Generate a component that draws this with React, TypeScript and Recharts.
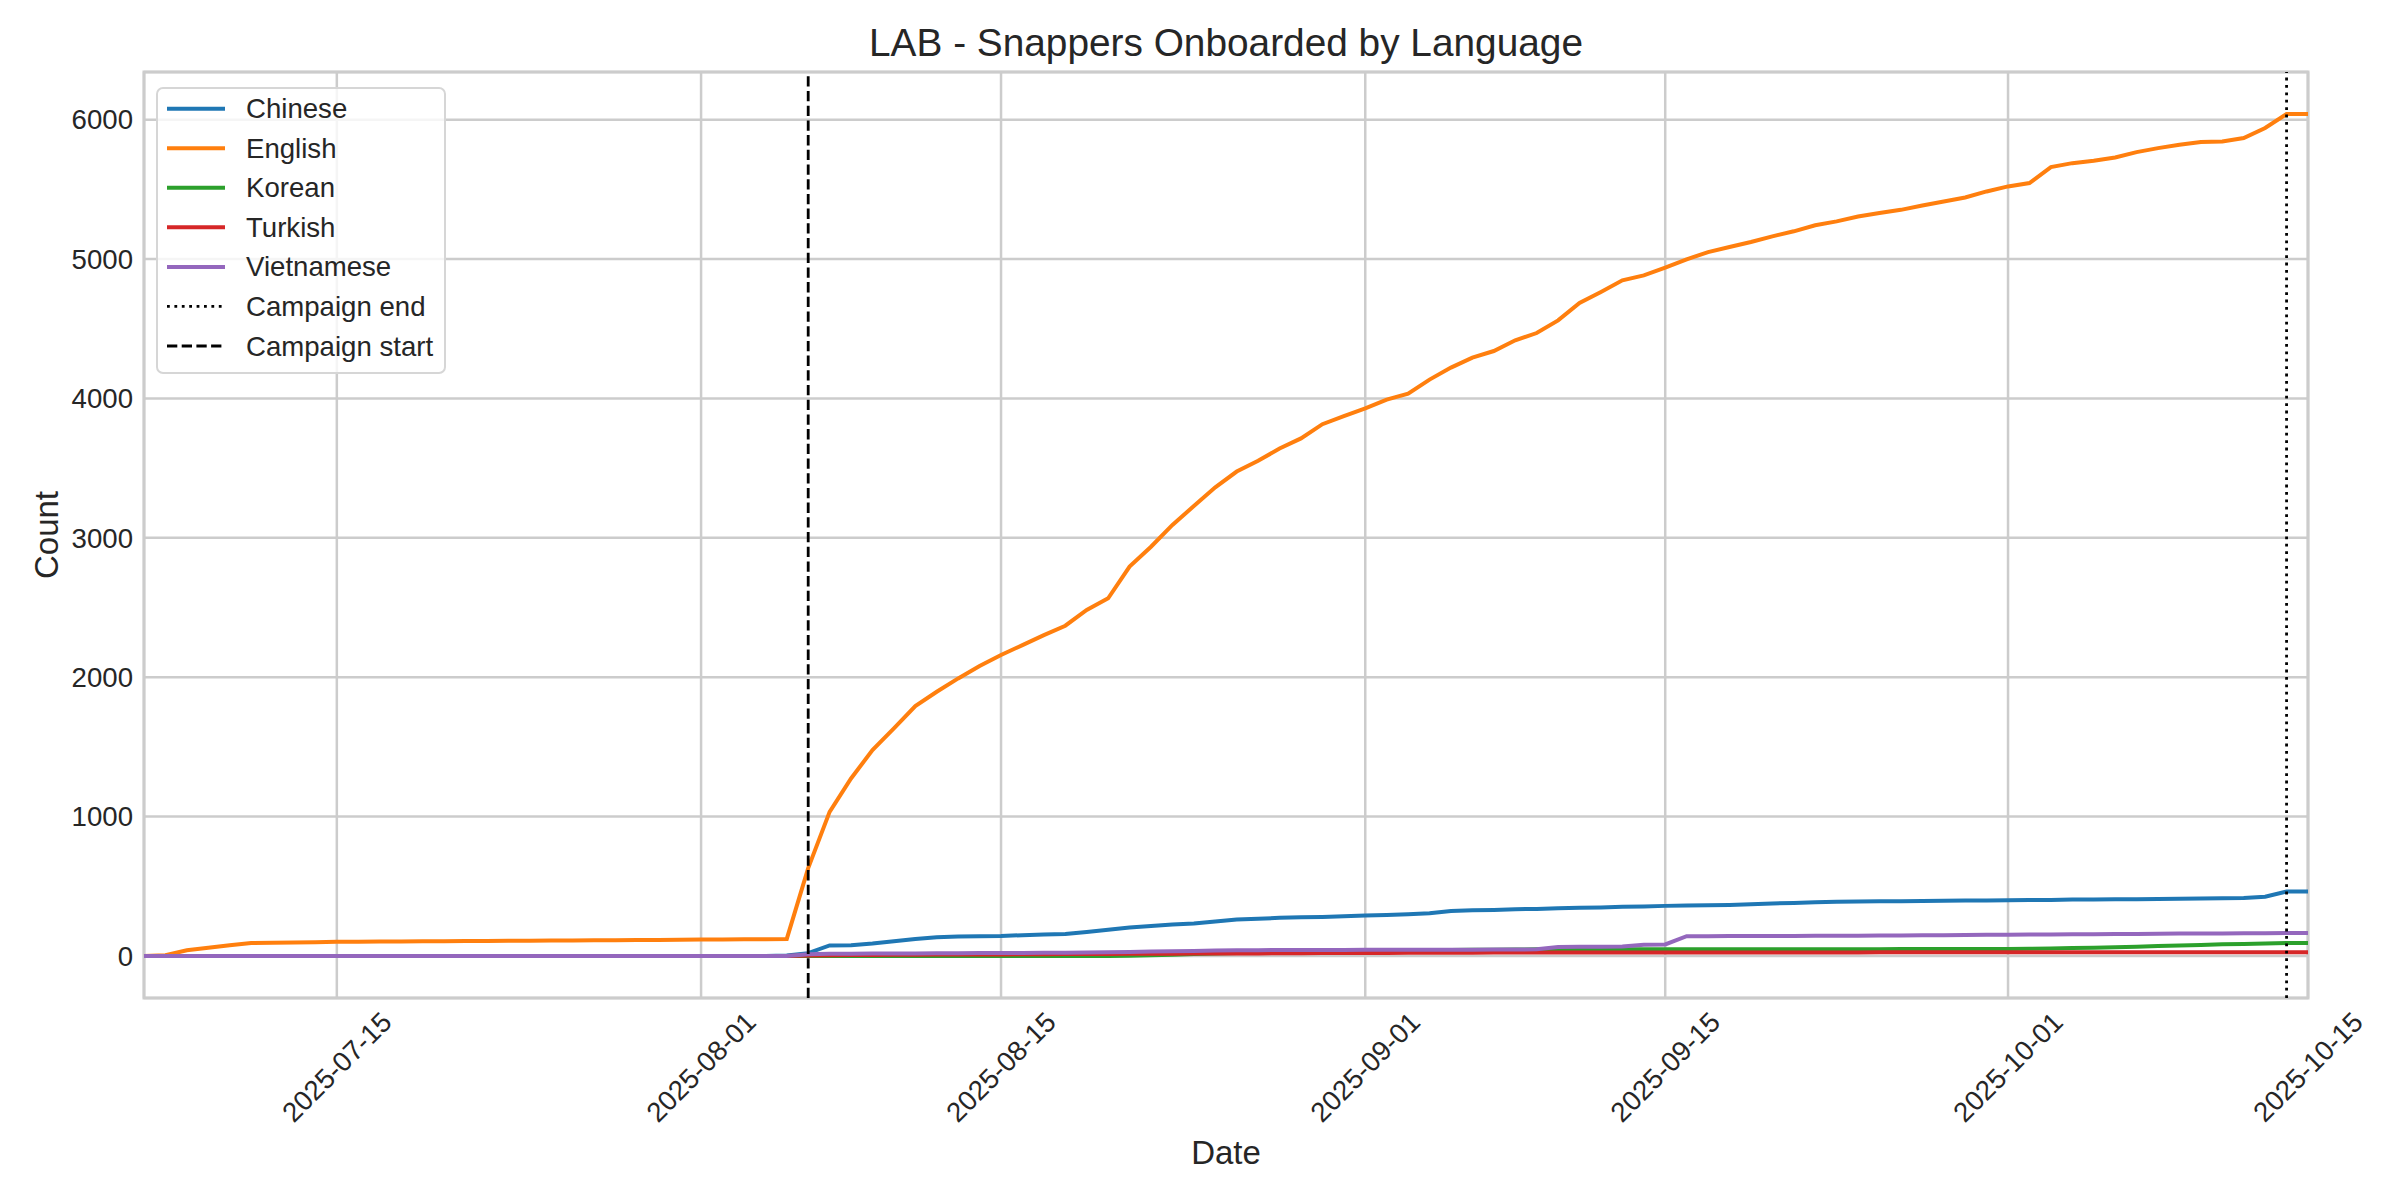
import React from "react";
import { LineChart, Line, XAxis, YAxis, CartesianGrid, ReferenceLine, ReferenceArea } from "recharts";

const FONT = "'Liberation Sans', Arial, sans-serif";
const TEXT = "#262626";

// daily dates, 2025-07-06 .. 2025-10-15
const dates = [
  "2025-07-06", "2025-07-07", "2025-07-08", "2025-07-09", "2025-07-10", "2025-07-11", "2025-07-12", "2025-07-13",
  "2025-07-14", "2025-07-15", "2025-07-16", "2025-07-17", "2025-07-18", "2025-07-19", "2025-07-20", "2025-07-21",
  "2025-07-22", "2025-07-23", "2025-07-24", "2025-07-25", "2025-07-26", "2025-07-27", "2025-07-28", "2025-07-29",
  "2025-07-30", "2025-07-31",
  "2025-08-01", "2025-08-02", "2025-08-03", "2025-08-04", "2025-08-05", "2025-08-06", "2025-08-07", "2025-08-08",
  "2025-08-09", "2025-08-10", "2025-08-11", "2025-08-12", "2025-08-13", "2025-08-14", "2025-08-15", "2025-08-16",
  "2025-08-17", "2025-08-18", "2025-08-19", "2025-08-20", "2025-08-21", "2025-08-22", "2025-08-23", "2025-08-24",
  "2025-08-25", "2025-08-26", "2025-08-27", "2025-08-28", "2025-08-29", "2025-08-30", "2025-08-31",
  "2025-09-01", "2025-09-02", "2025-09-03", "2025-09-04", "2025-09-05", "2025-09-06", "2025-09-07", "2025-09-08",
  "2025-09-09", "2025-09-10", "2025-09-11", "2025-09-12", "2025-09-13", "2025-09-14", "2025-09-15", "2025-09-16",
  "2025-09-17", "2025-09-18", "2025-09-19", "2025-09-20", "2025-09-21", "2025-09-22", "2025-09-23", "2025-09-24",
  "2025-09-25", "2025-09-26", "2025-09-27", "2025-09-28", "2025-09-29", "2025-09-30",
  "2025-10-01", "2025-10-02", "2025-10-03", "2025-10-04", "2025-10-05", "2025-10-06", "2025-10-07", "2025-10-08",
  "2025-10-09", "2025-10-10", "2025-10-11", "2025-10-12", "2025-10-13", "2025-10-14", "2025-10-15",
];

const chinese = [
  0, 0, 0, 0, 0, 0, 0, 0, 0, 0,
  0, 0, 0, 0, 0, 0, 0, 0, 0, 0,
  0, 0, 0, 0, 0, 0, 0, 0, 0, 0,
  3, 20, 75, 77, 89, 105, 122, 134, 139, 141,
  142, 149, 153, 158, 172, 187, 204, 215, 225, 232,
  247, 261, 266, 273, 277, 280, 285, 290, 294, 299,
  306, 323, 328, 330, 335, 337, 342, 345, 347, 352,
  354, 359, 362, 364, 366, 371, 376, 380, 385, 388,
  391, 392, 393, 394, 395, 397, 398, 400, 401, 402,
  404, 405, 406, 407, 409, 410, 412, 414, 415, 424,
  462, 462,
];

const english = [
  0, 5, 41, 58, 77, 92, 94, 96, 98, 101,
  102, 103, 104, 105, 106, 107, 107, 108, 109, 110,
  111, 112, 113, 114, 115, 116, 117, 118, 119, 120,
  122, 630, 1034, 1273, 1477, 1632, 1793, 1895, 1991, 2080,
  2159, 2230, 2302, 2369, 2482, 2566, 2793, 2936, 3092, 3228,
  3362, 3475, 3552, 3641, 3713, 3815, 3873, 3928, 3991, 4034,
  4135, 4221, 4293, 4340, 4417, 4469, 4560, 4685, 4764, 4847,
  4883, 4938, 4998, 5050, 5086, 5122, 5163, 5199, 5242, 5270,
  5305, 5330, 5353, 5384, 5413, 5442, 5485, 5521, 5545, 5660,
  5688, 5705, 5729, 5767, 5796, 5820, 5839, 5844, 5868, 5940,
  6040, 6040,
];

const korean = [
  0, 0, 0, 0, 0, 0, 0, 0, 0, 0,
  0, 0, 0, 0, 0, 0, 0, 0, 0, 0,
  0, 0, 0, 0, 0, 0, 0, 0, 0, 0,
  0, 0, 0, 0, 0, 0, 0, 0, 0, 0,
  0, 0, 0, 0, 0, 0, 2, 5, 9, 13,
  17, 20, 22, 25, 28, 30, 32, 34, 36, 38,
  40, 42, 44, 45, 46, 47, 48, 48, 48, 48,
  48, 48, 48, 48, 48, 48, 48, 48, 48, 48,
  48, 48, 49, 49, 49, 49, 49, 50, 51, 53,
  56, 59, 62, 66, 71, 75, 79, 83, 86, 89,
  92, 93,
];

const turkish = [
  0, 0, 0, 0, 0, 0, 0, 0, 0, 0,
  0, 0, 0, 0, 0, 0, 0, 0, 0, 0,
  0, 0, 0, 0, 0, 0, 0, 0, 0, 0,
  0, 3, 5, 6, 7, 8, 9, 10, 10, 11,
  11, 12, 12, 13, 13, 14, 15, 16, 16, 17,
  17, 18, 18, 19, 19, 20, 20, 21, 21, 22,
  22, 23, 23, 24, 24, 24, 25, 25, 25, 25,
  25, 25, 25, 25, 25, 25, 25, 25, 25, 25,
  25, 26, 26, 26, 26, 26, 26, 26, 26, 26,
  26, 26, 26, 26, 26, 27, 27, 27, 27, 27,
  27, 27,
];

const vietnamese = [
  0, 0, 0, 0, 0, 0, 0, 0, 0, 0,
  0, 0, 0, 0, 0, 0, 0, 0, 0, 0,
  0, 0, 0, 0, 0, 0, 0, 0, 0, 0,
  0, 12, 15, 16, 17, 18, 18, 19, 19, 20,
  20, 21, 22, 23, 24, 26, 28, 31, 34, 36,
  38, 40, 41, 42, 43, 43, 43, 44, 44, 44,
  45, 45, 45, 46, 46, 47, 64, 65, 66, 67,
  80, 82, 141, 141, 142, 142, 143, 143, 144, 144,
  145, 146, 147, 148, 149, 150, 151, 152, 153, 154,
  155, 156, 157, 158, 159, 160, 160, 161, 162, 163,
  164, 165,
];

const xTicks = ["2025-07-15", "2025-08-01", "2025-08-15", "2025-09-01", "2025-09-15", "2025-10-01", "2025-10-15"];
const yTicks = [0, 1000, 2000, 3000, 4000, 5000, 6000];
const campaignStart = "2025-08-06";
const campaignEnd = "2025-10-14";

const series = [
  { name: "Chinese", color: "#1f77b4", values: chinese },
  { name: "English", color: "#ff7f0e", values: english },
  { name: "Korean", color: "#2ca02c", values: korean },
  { name: "Turkish", color: "#d62728", values: turkish },
  { name: "Vietnamese", color: "#9467bd", values: vietnamese },
];

const data = dates.map((date, i) => {
  const row: Record<string, string | number> = { date };
  series.forEach((s) => (row[s.name] = s.values[i]));
  return row;
});

const Y_DOMAIN = [-302, 6342];
const TICK_SIZE = 27.6;

function DateTick({ x, y, payload }: any) {
  const cy = y + 69;
  return (
    <text
      x={x}
      y={cy}
      transform={`rotate(-45 ${x} ${cy})`}
      textAnchor="middle"
      dominantBaseline="central"
      fontSize={TICK_SIZE}
      fill={TEXT}
      fontFamily={FONT}
    >
      {payload.value}
    </text>
  );
}

const legendItems = [
  ...series.map((s) => ({ name: s.name, color: s.color, width: 4, dash: undefined as string | undefined })),
  { name: "Campaign end", color: "#000", width: 2.8, dash: "2.8 4.6" },
  { name: "Campaign start", color: "#000", width: 2.8, dash: "10.3 4.4" },
];

export default function App() {
  return (
    <div style={{ position: "absolute", left: 0, top: 0, width: 2400, height: 1200, background: "#fff" }}>
      <LineChart width={2400} height={1200} data={data} margin={{ top: 72, right: 92, bottom: 52, left: 84 }}>
        <CartesianGrid stroke="#cccccc" strokeWidth={2.5} />
        <XAxis
          dataKey="date"
          type="category"
          ticks={xTicks}
          interval={0}
          height={150}
          axisLine={false}
          tickLine={false}
          tickSize={0}
          tickMargin={0}
          tick={(p: any) => <DateTick {...p} />}
        />
        <YAxis
          type="number"
          domain={Y_DOMAIN}
          ticks={yTicks}
          interval={0}
          allowDataOverflow
          width={60}
          axisLine={false}
          tickLine={false}
          tickSize={0}
          tickMargin={11}
          tick={{ fontSize: TICK_SIZE, fill: TEXT, fontFamily: FONT }}
        />
        {series.map((s) => (
          <Line
            key={s.name}
            type="linear"
            dataKey={s.name}
            stroke={s.color}
            strokeWidth={4}
            dot={false}
            isAnimationActive={false}
          />
        ))}
        <ReferenceLine x={campaignEnd} stroke="#000" strokeWidth={2.8} strokeDasharray="2.8 4.6" />
        <ReferenceLine x={campaignStart} stroke="#000" strokeWidth={2.8} strokeDasharray="10.3 4.4" />
        <ReferenceArea
          x1={dates[0]}
          x2={dates[dates.length - 1]}
          y1={Y_DOMAIN[0]}
          y2={Y_DOMAIN[1]}
          fill="none"
          fillOpacity={0}
          stroke="#cccccc"
          strokeWidth={3}
        />
      </LineChart>
      <svg
        width={2400}
        height={1200}
        style={{ position: "absolute", left: 0, top: 0, pointerEvents: "none" }}
        fontFamily={FONT}
      >
        <text x={1226} y={42} textAnchor="middle" dominantBaseline="central" fontSize={38.8} fill={TEXT}>
          LAB - Snappers Onboarded by Language
        </text>
        <text x={1226} y={1152} textAnchor="middle" dominantBaseline="central" fontSize={33} fill={TEXT}>
          Date
        </text>
        <text
          x={46}
          y={535}
          transform="rotate(-90 46 535)"
          textAnchor="middle"
          dominantBaseline="central"
          fontSize={33}
          fill={TEXT}
        >
          Count
        </text>
        <g transform="translate(156 87)">
          <rect x={1} y={1} width={288} height={285} rx={6} fill="rgba(255,255,255,0.8)" stroke="#d6d6d6" strokeWidth={2} />
          {legendItems.map((it, i) => {
            const cy = 21.7 + i * 39.55;
            return (
              <g key={it.name}>
                <line x1={11} x2={69} y1={cy} y2={cy} stroke={it.color} strokeWidth={it.width} strokeDasharray={it.dash} />
                <text x={90} y={cy} dominantBaseline="central" fontSize={TICK_SIZE} fill={TEXT}>
                  {it.name}
                </text>
              </g>
            );
          })}
        </g>
      </svg>
    </div>
  );
}
